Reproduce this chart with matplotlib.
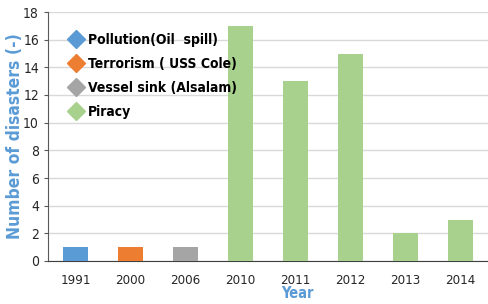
import matplotlib.pyplot as plt
from matplotlib.lines import Line2D

# 数据
years = ["1991", "2000", "2006", "2010", "2011", "2012", "2013", "2014"]
disasters = [1, 1, 1, 17, 13, 15, 2, 3]
kinds = ["Pollution(Oil  spill)", "Terrorism ( USS Cole)", "Vessel sink (Alsalam)", "Piracy"]
kind_colors = ["#5B9BD5", "#ED7D31", "#A5A5A5", "#A9D18E"]
bar_kind = [0, 1, 2, 3, 3, 3, 3, 3]

plt.rcParams['font.family'] = ['DejaVu Sans']
plt.rcParams['font.stretch'] = 'condensed'

fig = plt.figure(figsize=(4.88, 3.04), dpi=100)
ax = fig.add_axes([48 / 488, 43 / 304, 440 / 488, 249 / 304])

x = list(range(len(years)))
colors = [kind_colors[k] for k in bar_kind]
ax.bar(x, disasters, width=0.45, color=colors, zorder=3)

ax.set_xlim(-0.5, len(years) - 0.5)
ax.set_ylim(0, 18)
ax.set_yticks(range(0, 19, 2))
ax.set_xticks(x, years)
ax.grid(axis="y", color="#D9D9D9", linewidth=1, zorder=0)

for s in ["top", "right"]:
    ax.spines[s].set_visible(False)
ax.spines["left"].set_color("#595959")
ax.spines["bottom"].set_color("#404040")
ax.tick_params(axis="y", length=3, color="#595959", labelsize=10, labelcolor="#262626")
ax.tick_params(axis="x", length=0, pad=9, labelsize=9.5, labelcolor="#262626")

ax.set_ylabel("Number of disasters (-)", color="#5B9BD5", fontweight="bold",
              fontsize=12.5)
ax.yaxis.set_label_coords(-24 / 440, 0.5)
fig.text(297 / 488, 1 - 293 / 304, "Year", color="#5B9BD5", fontweight="bold",
         fontsize=10.5, ha="center", va="center")

handles = [Line2D([], [], marker="D", linestyle="none", markersize=9.5, color=c)
           for c in kind_colors]
leg = ax.legend(handles, kinds, loc="upper left", bbox_to_anchor=(0.016, 0.965),
                frameon=False, handlelength=1.2, handletextpad=0.3,
                labelspacing=0.72, prop={"weight": "bold", "size": 10})

plt.savefig("out.png", dpi=100)
